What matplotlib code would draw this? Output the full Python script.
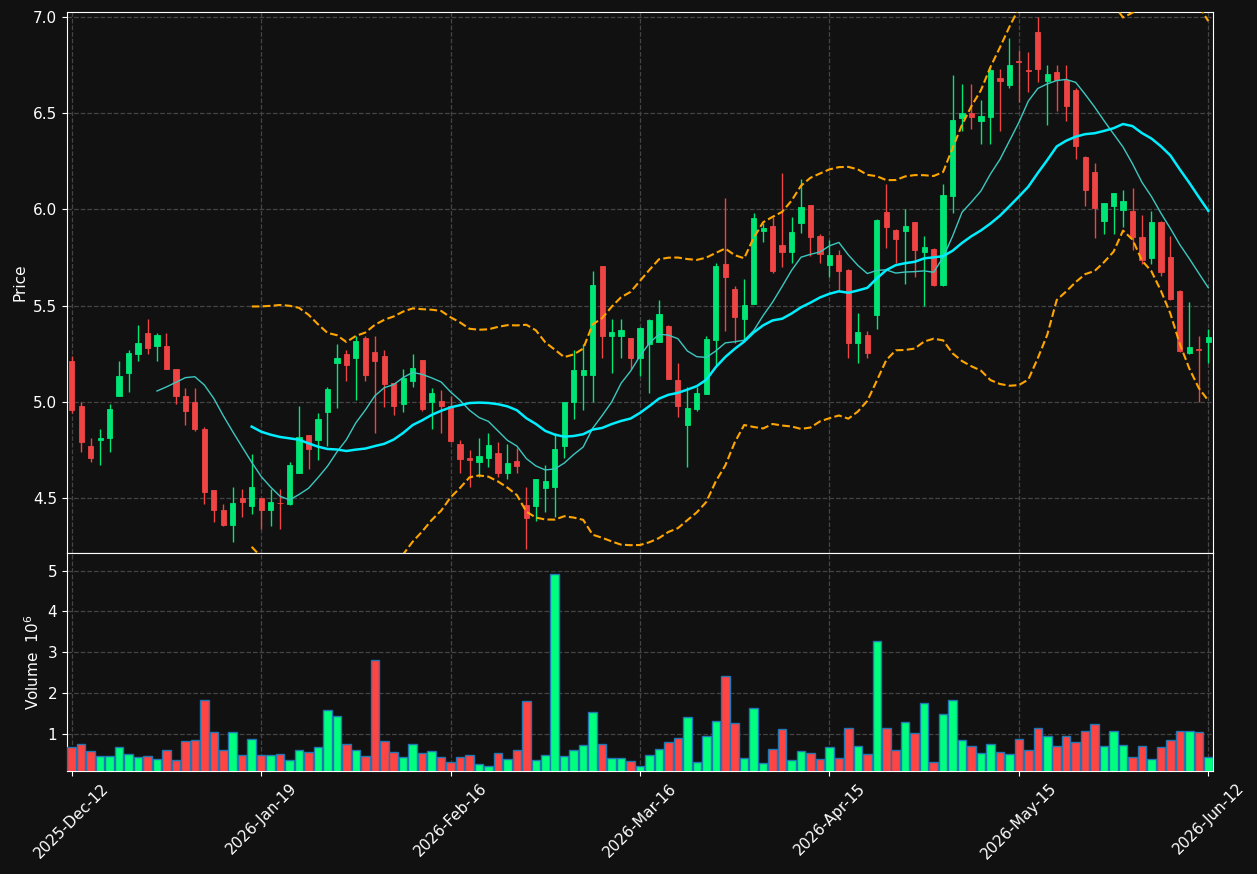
import numpy as np
import pandas as pd
import matplotlib
matplotlib.use('Agg')
import matplotlib.pyplot as plt

# Velas diarias (open, high, low, close)
opens = [5.21, 4.98, 4.77, 4.80, 4.81, 5.03, 5.15, 5.25, 5.36, 5.29,
         5.29, 5.17, 5.03, 5.00, 4.86, 4.54, 4.44, 4.36, 4.50, 4.46,
         4.50, 4.44, 4.477, 4.47, 4.63, 4.83, 4.80, 4.95, 5.20, 5.25,
         5.23, 5.33, 5.26, 5.24, 5.10, 4.99, 5.11, 5.22, 5.00, 5.005,
         4.98, 4.78, 4.71, 4.69, 4.71, 4.735, 4.63, 4.694, 4.466, 4.46,
         4.555, 4.56, 4.77, 5.00, 5.142, 5.14, 5.706, 5.344, 5.344, 5.33,
         5.23, 5.30, 5.31, 5.395, 5.114, 4.88, 4.964, 5.04, 5.32, 5.716,
         5.587, 5.43, 5.51, 5.889, 5.914, 5.815, 5.78, 5.93, 6.023, 5.862,
         5.711, 5.763, 5.686, 5.305, 5.348, 5.454, 5.985, 5.893, 5.89, 5.933,
         5.781, 5.793, 5.609, 6.071, 6.473, 6.499, 6.461, 6.481, 6.682, 6.649,
         6.772, 6.724, 6.921, 6.668, 6.713, 6.675, 6.62, 6.272, 6.192, 5.942,
         6.02, 5.999, 5.992, 5.855, 5.75, 5.935, 5.751, 5.577, 5.253, 5.276,
         5.313]
highs = [5.24, 5.00, 4.81, 4.86, 4.99, 5.21, 5.27, 5.40, 5.43, 5.36,
         5.36, 5.17, 5.07, 5.07, 4.87, 4.54, 4.47, 4.56, 4.55, 4.73,
         4.50, 4.55, 4.55, 4.69, 4.98, 4.83, 4.94, 5.08, 5.30, 5.27,
         5.34, 5.34, 5.34, 5.27, 5.10, 5.17, 5.25, 5.22, 5.07, 5.06,
         5.03, 4.80, 4.75, 4.81, 4.84, 4.79, 4.78, 4.76, 4.56, 4.60,
         4.67, 4.84, 5.00, 5.27, 5.30, 5.68, 5.706, 5.43, 5.43, 5.33,
         5.39, 5.43, 5.53, 5.40, 5.20, 5.08, 5.08, 5.34, 5.72, 6.06,
         5.60, 5.64, 5.98, 5.93, 5.96, 6.19, 5.96, 6.16, 6.025, 5.87,
         5.84, 5.79, 5.69, 5.46, 5.37, 5.95, 6.13, 5.90, 6.00, 5.935,
         5.86, 5.80, 6.13, 6.70, 6.65, 6.65, 6.57, 6.74, 6.73, 6.89,
         6.83, 6.82, 7.00, 6.75, 6.75, 6.75, 6.63, 6.28, 6.24, 6.035,
         6.085, 6.10, 6.11, 5.97, 5.99, 5.94, 5.86, 5.58, 5.52, 5.34,
         5.38]
lows = [4.94, 4.74, 4.69, 4.67, 4.74, 5.03, 5.05, 5.21, 5.25, 5.21,
        5.17, 4.99, 4.88, 4.85, 4.47, 4.375, 4.353, 4.27, 4.40, 4.42,
        4.34, 4.353, 4.34, 4.465, 4.63, 4.65, 4.70, 4.77, 4.97, 5.11,
        5.01, 5.11, 4.84, 4.975, 4.93, 4.95, 5.08, 4.955, 4.86, 4.84,
        4.79, 4.63, 4.56, 4.61, 4.66, 4.61, 4.60, 4.63, 4.235, 4.38,
        4.43, 4.40, 4.71, 4.91, 4.96, 5.00, 5.23, 5.15, 5.23, 5.17,
        5.135, 5.045, 5.31, 5.12, 4.92, 4.66, 4.955, 5.04, 5.19, 5.37,
        5.305, 5.32, 5.51, 5.83, 5.67, 5.70, 5.72, 5.88, 5.76, 5.72,
        5.65, 5.58, 5.23, 5.20, 5.23, 5.38, 5.80, 5.72, 5.61, 5.65,
        5.50, 5.60, 5.60, 5.98, 6.41, 6.42, 6.34, 6.34, 6.41, 6.63,
        6.56, 6.61, 6.66, 6.44, 6.51, 6.46, 6.26, 6.02, 5.85, 5.87,
        5.87, 5.91, 5.79, 5.715, 5.715, 5.654, 5.53, 5.26, 5.25, 5.00,
        5.20]
closes = [4.96, 4.794, 4.711, 4.814, 4.963, 5.135, 5.254, 5.306, 5.282, 5.347,
          5.173, 5.032, 4.955, 4.861, 4.534, 4.436, 4.358, 4.475, 4.482, 4.557,
          4.436, 4.481, 4.474, 4.673, 4.818, 4.757, 4.911, 5.067, 5.226, 5.193,
          5.316, 5.141, 5.214, 5.095, 4.981, 5.124, 5.176, 4.963, 5.046, 4.981,
          4.799, 4.704, 4.696, 4.72, 4.777, 4.633, 4.684, 4.665, 4.396, 4.60,
          4.59, 4.756, 5.00, 5.166, 5.166, 5.607, 5.344, 5.363, 5.374, 5.23,
          5.383, 5.424, 5.457, 5.121, 4.981, 4.969, 5.047, 5.327, 5.706, 5.651,
          5.443, 5.504, 5.955, 5.903, 5.68, 5.78, 5.883, 6.012, 5.858, 5.77,
          5.763, 5.682, 5.305, 5.362, 5.253, 5.945, 5.91, 5.845, 5.912, 5.791,
          5.803, 5.609, 6.075, 6.464, 6.499, 6.481, 6.483, 6.724, 6.668, 6.749,
          6.768, 6.72, 6.729, 6.703, 6.672, 6.538, 6.331, 6.103, 6.009, 6.033,
          6.084, 6.042, 5.859, 5.738, 5.935, 5.674, 5.533, 5.262, 5.284, 5.272,
          5.336]

# Volumen en millones
volume = [0.678, 0.744, 0.571, 0.448, 0.448, 0.678, 0.497, 0.423, 0.448, 0.374,
          0.596, 0.349, 0.818, 0.843, 1.831, 1.033, 0.596, 1.033, 0.473, 0.868,
          0.473, 0.473, 0.497, 0.349, 0.596, 0.547, 0.670, 1.584, 1.436, 0.744,
          0.596, 0.456, 2.794, 0.818, 0.547, 0.423, 0.744, 0.522, 0.571, 0.423,
          0.300, 0.423, 0.473, 0.250, 0.201, 0.522, 0.374, 0.596, 1.806, 0.349,
          0.473, 4.917, 0.448, 0.596, 0.719, 1.534, 0.744, 0.399, 0.399, 0.324,
          0.201, 0.473, 0.621, 0.793, 0.892, 1.411, 0.300, 0.942, 1.312, 2.423,
          1.263, 0.399, 1.633, 0.275, 0.621, 1.115, 0.349, 0.571, 0.522, 0.374,
          0.670, 0.399, 1.139, 0.695, 0.497, 3.263, 1.139, 0.596, 1.288, 1.016,
          1.757, 0.300, 1.485, 1.831, 0.843, 0.695, 0.522, 0.744, 0.547, 0.497,
          0.868, 0.596, 1.139, 0.942, 0.695, 0.942, 0.793, 1.065, 1.238, 0.695,
          1.065, 0.719, 0.431, 0.695, 0.374, 0.670, 0.843, 1.065, 1.065, 1.040,
          0.431]

tick_labels = ['2025-Dec-12', '2026-Jan-19', '2026-Feb-16', '2026-Mar-16',
               '2026-Apr-15', '2026-May-15', '2026-Jun-12']

df = pd.DataFrame({'open': opens, 'high': highs, 'low': lows,
                   'close': closes, 'volume': volume})
x = np.arange(len(df))

# Medias moviles y bandas de Bollinger
ma10 = df['close'].rolling(10).mean()
ma20 = df['close'].rolling(20).mean()
sd20 = df['close'].rolling(20).std(ddof=0)
upper = ma20 + 2 * sd20
lower = ma20 - 2 * sd20

bg = '#111111'
up_c = '#00e676'
dn_c = '#ef4444'
up_v = '#00ff7f'
dn_v = '#ff4444'

rising = df['close'] >= df['open']
candle_col = np.where(rising, up_c, dn_c)
vol_col = np.where(rising, up_v, dn_v)

fig = plt.figure(figsize=(12.57, 8.74), dpi=100, facecolor=bg)
ax = fig.add_axes([0.0533, 0.3673, 0.9117, 0.619])
axv = fig.add_axes([0.0533, 0.1178, 0.9117, 0.2495], sharex=ax)

for a in (ax, axv):
    a.set_facecolor(bg)
    for s in a.spines.values():
        s.set_color('white')
    a.tick_params(colors='white', labelsize=11)
    a.grid(True, color='#444444', linestyle='--', linewidth=0.9)
    a.set_axisbelow(True)

# Velas
ax.vlines(x, df['low'], df['high'], colors=candle_col, linewidth=1, zorder=2)
body_bot = np.minimum(df['open'], df['close'])
body_h = np.abs(df['close'] - df['open'])
ax.bar(x, body_h, bottom=body_bot, width=0.55, color=candle_col,
       edgecolor=candle_col, linewidth=0.6, zorder=3)

ax.plot(x, ma10, color='#3cc8c0', linewidth=1, zorder=4)
ax.plot(x, ma20, color='#00eeff', linewidth=1.8, zorder=4)
ax.plot(x, upper, color='orange', linestyle='--', linewidth=1.5, zorder=4)
ax.plot(x, lower, color='orange', linestyle='--', linewidth=1.5, zorder=4)

ax.set_ylim(4.215, 7.026)
ax.set_yticks([4.5, 5.0, 5.5, 6.0, 6.5, 7.0])
ax.set_yticklabels(['4.5', '5.0', '5.5', '6.0', '6.5', '7.0'])
ax.set_ylabel('Price', color='white', fontsize=11)
ax.tick_params(axis='x', labelbottom=False)

# Volumen
axv.bar(x, df['volume'], width=0.9, color=vol_col, edgecolor='#1f77b4',
        linewidth=1, zorder=3)
axv.set_ylim(0.08, 5.43)
axv.set_yticks([1, 2, 3, 4, 5])
axv.set_ylabel('Volume  $10^6$', color='white', fontsize=11)

axv.set_xlim(-0.5, len(df) - 0.5)
axv.set_xticks(np.arange(0, len(df), 20))
axv.set_xticklabels(tick_labels, rotation=45)

plt.savefig('out.png', dpi=100, facecolor=bg)
